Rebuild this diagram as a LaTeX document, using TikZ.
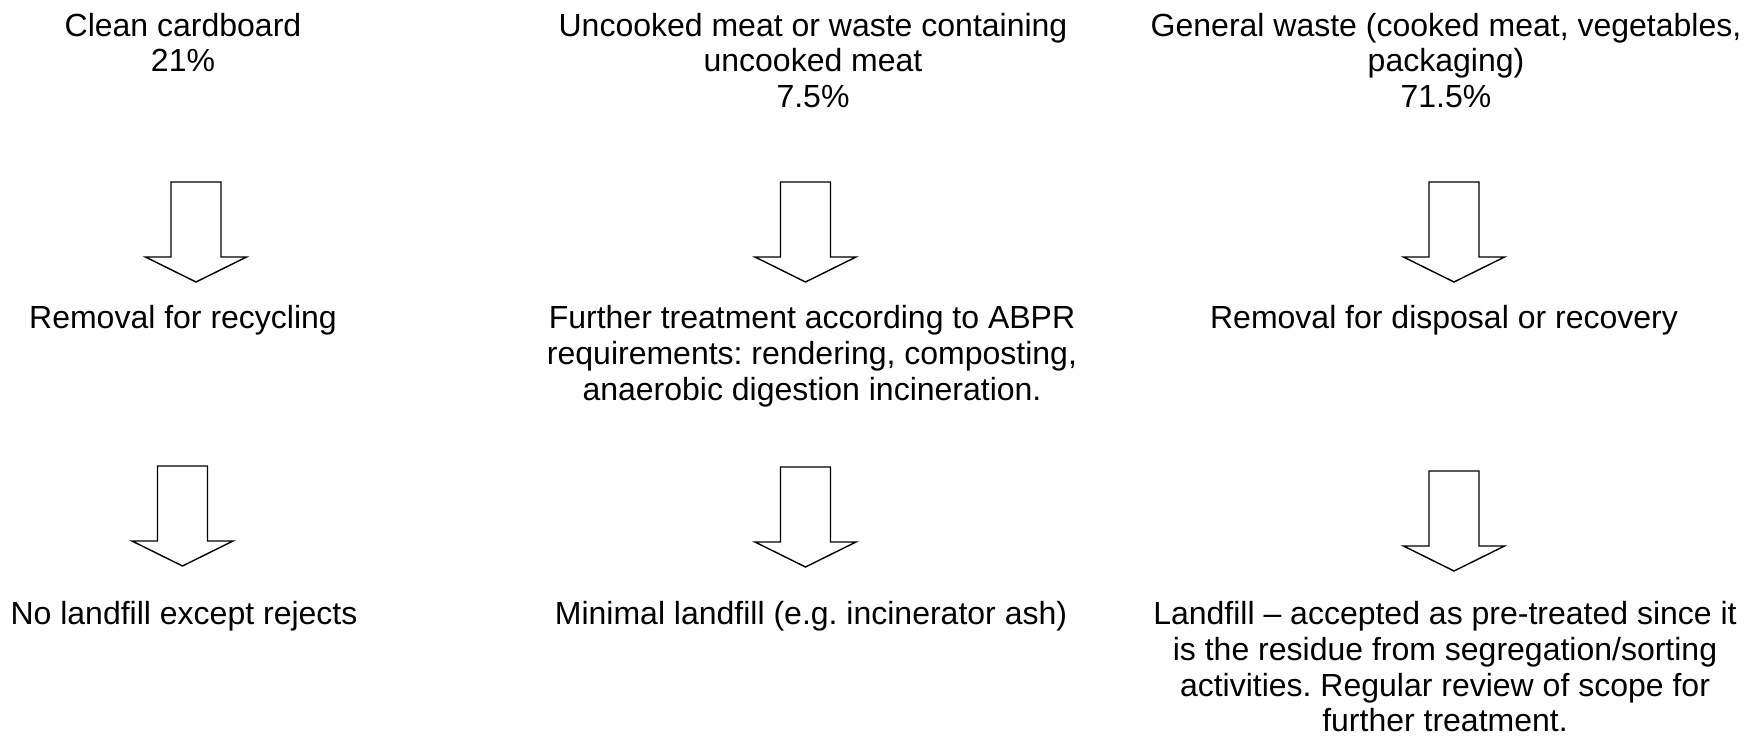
\documentclass[tikz,border=0pt]{standalone}
\usepackage{fontspec}
\setmainfont{Liberation Sans}
\begin{document}
\frenchspacing
\begin{tikzpicture}[x=1pt,y=-1pt,
  lbl/.style={anchor=north,align=center,inner sep=0pt,font=\fontsize{32}{35.6}\selectfont\frenchspacing},
  arrowline/.style={draw=black,line width=1.4pt,fill=white,line join=miter},
  downarrow/.pic={\path[arrowline] (-25,0) -- (25,0) -- (25,75) -- (50.5,75) -- (0,100) -- (-50.5,75) -- (-25,75) -- cycle;}]
\useasboundingbox[fill=white] (0,0) rectangle (1757,738);
% row 1
\node[lbl] (c1) at (183,13) {Clean cardboard\\21\%};
\node[lbl] (m1) at (813,13) {Uncooked meat or waste containing\\uncooked meat\\7.5\%};
\node[lbl] (g1) at (1446,13) {General waste (cooked meat, vegetables,\\packaging)\\71.5\%};
% arrows row 1
\pic (a1) at (196,182) {downarrow};
\pic (a2) at (805.5,182) {downarrow};
\pic (a3) at (1454,182) {downarrow};
% row 2
\node[lbl] (c2) at (183,305.5) {Removal for recycling};
\node[lbl] (m2) at (812,305.5) {Further treatment according to ABPR\\requirements: rendering, composting,\\anaerobic digestion incineration.};
\node[lbl] (g2) at (1444,305.5) {Removal for disposal or recovery};
% arrows row 2
\pic (a4) at (182.5,466) {downarrow};
\pic (a5) at (805.5,467) {downarrow};
\pic (a6) at (1454,471) {downarrow};
% row 3
\node[lbl] (c3) at (184,601.5) {No landfill except rejects};
\node[lbl] (m3) at (811,601.5) {Minimal landfill (e.g. incinerator ash)};
\node[lbl] (g3) at (1445,601.5) {Landfill – accepted as pre-treated since it\\is the residue from segregation/sorting\\activities. Regular review of scope for\\further treatment.};
\end{tikzpicture}
\end{document}
